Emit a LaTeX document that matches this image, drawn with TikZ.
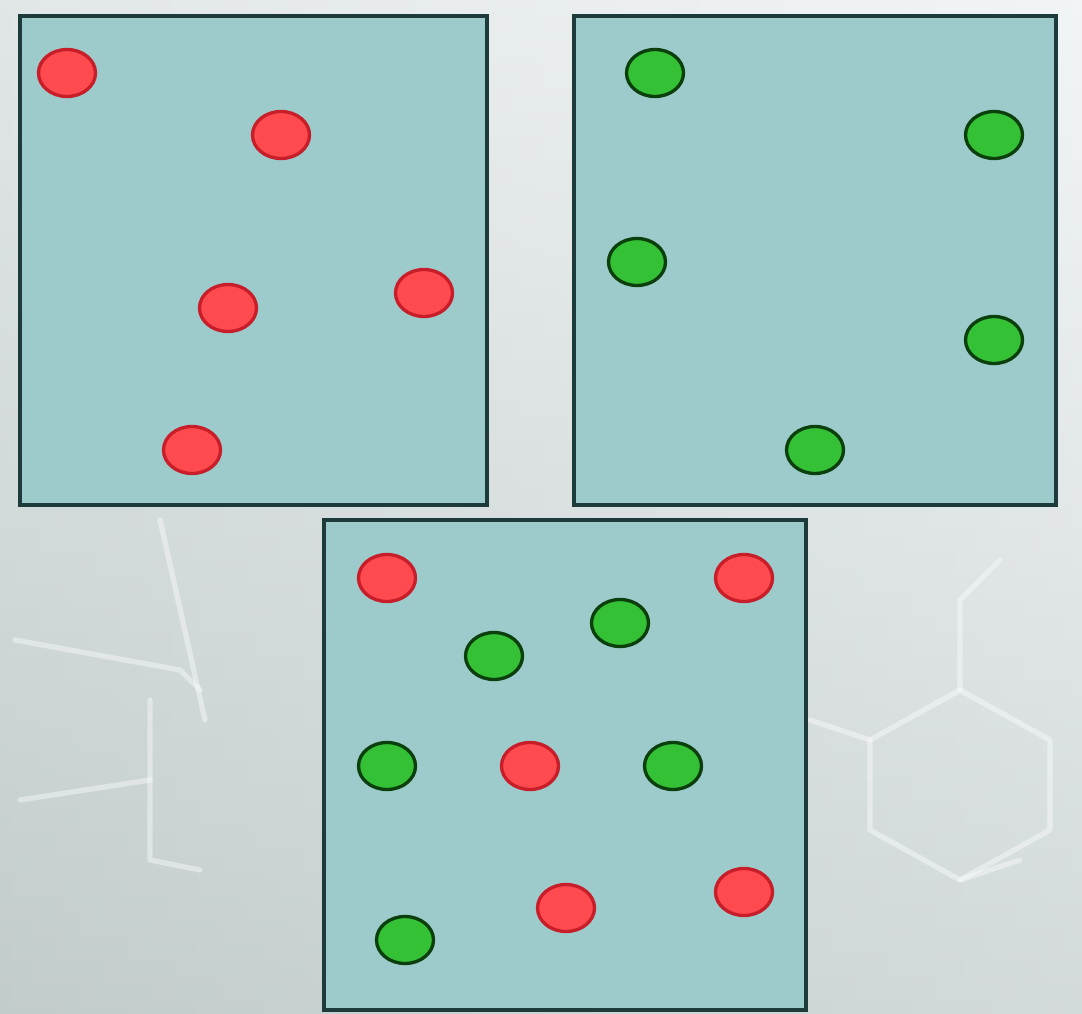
\documentclass[tikz,border=0pt]{standalone}
\usepackage{xcolor}
\usetikzlibrary{positioning, shapes.geometric}

\definecolor{boxfill}{HTML}{9DCBCC}
\definecolor{boxline}{HTML}{1E3B3B}
\definecolor{redfill}{HTML}{FF4B4F}
\definecolor{redline}{HTML}{C81E2A}
\definecolor{greenfill}{HTML}{35C135}
\definecolor{greenline}{HTML}{0B3F0B}
\definecolor{bgdark}{HTML}{C3CCCC}
\definecolor{bglight}{HTML}{F2F5F5}

\tikzset{
    panel/.style={draw=boxline, fill=boxfill, line width=2.3pt, inner sep=0pt},
    redball/.style={ellipse, draw=redline, fill=redfill, line width=1.9pt,
        minimum width=1.14cm, minimum height=0.94cm, inner sep=0pt},
    greenball/.style={ellipse, draw=greenline, fill=greenfill, line width=1.9pt,
        minimum width=1.14cm, minimum height=0.94cm, inner sep=0pt},
    faint/.style={draw=white, opacity=0.4, line width=3pt, line cap=round, line join=round}
}

\begin{document}
\begin{tikzpicture}[x=0.02cm, y=-0.02cm]

    % Background with a soft gradient
    \useasboundingbox (0,0) rectangle (1082,1014);
    \shade[top color=bglight, bottom color=bgdark] (0,0) rectangle (1082,1014);
    \shade[left color=bgdark, right color=bglight, opacity=0.35] (0,0) rectangle (1082,1014);

    % Faint molecule sketch behind the panels
    \draw[faint] (160,520) -- (205,720);
    \draw[faint] (15,640) -- (180,670) -- (200,690);
    \draw[faint] (150,700) -- (150,860) -- (200,870);
    \draw[faint] (20,800) -- (150,780);
    \draw[faint] (870,740) -- (960,690) -- (1050,740) -- (1050,830) -- (960,880) -- (870,830) -- cycle;
    \draw[faint] (960,690) -- (960,600) -- (1000,560);
    \draw[faint] (810,720) -- (870,740);
    \draw[faint] (960,880) -- (1020,860);

    % Panels: two pure samples on top, the mixture below
    \node[panel, minimum width=9.34cm, minimum height=9.78cm] (left) at (253.5,260.5) {};
    \node[panel, minimum width=9.64cm, minimum height=9.78cm] (right) at (815,260.5) {};
    \node[panel, minimum width=9.64cm, minimum height=9.80cm] (mix) at (565,765) {};

    % Red particles in the left panel
    \node[redball] (a1) at (67,73) {};
    \node[redball] (a2) at (281,135) {};
    \node[redball] (a3) at (228,308) {};
    \node[redball] (a4) at (424,293) {};
    \node[redball] (a5) at (192,450) {};

    % Green particles in the right panel
    \node[greenball] (b1) at (655,73) {};
    \node[greenball] (b2) at (994,135) {};
    \node[greenball] (b3) at (637,262) {};
    \node[greenball] (b4) at (994,340) {};
    \node[greenball] (b5) at (815,450) {};

    % Mixture of both
    \node[redball] (c1) at (387,578) {};
    \node[redball] (c2) at (744,578) {};
    \node[greenball] (c3) at (620,623) {};
    \node[greenball] (c4) at (494,656) {};
    \node[greenball] (c5) at (387,766) {};
    \node[redball] (c6) at (530,766) {};
    \node[greenball] (c7) at (673,766) {};
    \node[redball] (c8) at (744,892) {};
    \node[redball] (c9) at (566,908) {};
    \node[greenball] (c10) at (405,940) {};

\end{tikzpicture}
\end{document}
